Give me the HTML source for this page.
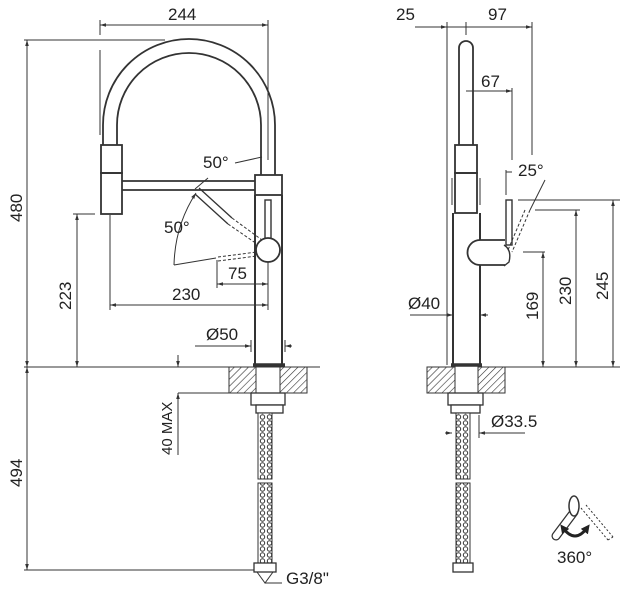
<!DOCTYPE html>
<html><head><meta charset="utf-8"><style>
html,body{margin:0;padding:0;background:#fff;width:627px;height:600px;overflow:hidden}
svg{display:block}
text{font-family:"Liberation Sans",sans-serif;font-size:17px;fill:#222}
</style></head><body>
<svg width="627" height="600" viewBox="0 0 627 600" xmlns="http://www.w3.org/2000/svg">
<defs>
<pattern id="h" width="5" height="5" patternUnits="userSpaceOnUse" patternTransform="rotate(45)">
<rect width="5" height="5" fill="#fff"/><line x1="0" y1="0" x2="0" y2="5" stroke="#333" stroke-width="1.2"/></pattern>
<pattern id="braid" width="7" height="6" patternUnits="userSpaceOnUse">
<rect width="7" height="6" fill="#fff"/><circle cx="3.5" cy="3" r="2.2" fill="none" stroke="#333" stroke-width="1"/></pattern>
<marker id="a" viewBox="0 0 10 10" refX="10" refY="5" markerWidth="6" markerHeight="6" orient="auto-start-reverse"><path d="M0,2 L10,5 L0,8z" fill="#333"/></marker>
<marker id="b" viewBox="0 0 10 10" refX="5" refY="5" markerWidth="3" markerHeight="3" orient="auto-start-reverse"><path d="M0,0 L10,5 L0,10z" fill="#222"/></marker>
</defs>
<g stroke="#333" stroke-width="1" fill="none">
<!-- LEFT VIEW dims -->
<line x1="100" y1="25" x2="268" y2="25" marker-start="url(#a)" marker-end="url(#a)"/>
<line x1="100" y1="20" x2="100" y2="35"/><line x1="100" y1="50" x2="100" y2="135"/>
<line x1="268" y1="20" x2="268" y2="160"/>
<line x1="24" y1="40" x2="165" y2="40"/>
<line x1="27" y1="40" x2="27" y2="367" marker-start="url(#a)" marker-end="url(#a)"/>
<line x1="27" y1="367" x2="27" y2="570" marker-start="url(#a)" marker-end="url(#a)"/>
<line x1="24" y1="367" x2="320" y2="367"/>
<line x1="24" y1="570" x2="258" y2="570"/>
<line x1="73" y1="214" x2="95" y2="214"/>
<line x1="77" y1="214" x2="77" y2="367" marker-start="url(#a)" marker-end="url(#a)"/>
<line x1="110" y1="215" x2="110" y2="310"/>
<line x1="110" y1="305" x2="268" y2="305" marker-start="url(#a)" marker-end="url(#a)"/>
<line x1="217" y1="260" x2="217" y2="288"/>
<line x1="217" y1="284" x2="268" y2="284" marker-start="url(#a)" marker-end="url(#a)"/>
<line x1="268" y1="255" x2="268" y2="310"/>
<line x1="178" y1="355" x2="178" y2="367" marker-end="url(#a)"/>
<line x1="178" y1="455" x2="178" y2="393" marker-end="url(#a)"/>
<line x1="178" y1="393" x2="229" y2="393"/>
<line x1="195" y1="346" x2="251" y2="346" marker-end="url(#a)"/>
<line x1="292" y1="346" x2="285" y2="346" marker-end="url(#a)"/>
<line x1="251" y1="340" x2="251" y2="352"/><line x1="285" y1="340" x2="285" y2="352"/>
<!-- arch hose -->
<path d="M103,145 L103,125 A86,86 0 0 1 275,125 L275,175" stroke-width="1.8"/>
<path d="M117,145 L117,125 A72,72 0 0 1 261,125 L261,175" stroke-width="1.8"/>
<!-- spray head -->
<rect x="101" y="145" width="21" height="28" stroke-width="1.8"/>
<rect x="101" y="173" width="21" height="41" stroke-width="1.8"/>
<!-- arm -->
<line x1="122" y1="181" x2="255" y2="181" stroke-width="1.8"/>
<line x1="122" y1="190" x2="255" y2="190" stroke-width="1.8"/>
<!-- body -->
<rect x="255" y="175" width="27" height="20" stroke-width="1.8"/>
<line x1="255" y1="195" x2="255" y2="365" stroke-width="2"/>
<line x1="282" y1="195" x2="282" y2="365" stroke-width="2"/>
<rect x="265" y="200" width="6" height="40" stroke-width="1.4"/>
<circle cx="268" cy="250" r="12" fill="#fff" stroke-width="1.8"/>
<line x1="253" y1="365" x2="285" y2="365" stroke-width="3.5"/>
<!-- pulled lever -->
<line x1="199" y1="188" x2="232" y2="218" stroke-width="1.3"/>
<line x1="195" y1="194" x2="228" y2="224" stroke-width="1.3"/>
<line x1="232" y1="218" x2="262" y2="240" stroke-dasharray="3,2"/>
<line x1="228" y1="224" x2="257" y2="244" stroke-dasharray="3,2"/>
<path d="M196,193 Q175,225 174,265" marker-start="url(#a)"/>
<line x1="174" y1="265" x2="216" y2="258"/>
<line x1="218" y1="257" x2="257" y2="252" stroke-dasharray="3,2"/>
<line x1="218" y1="261" x2="257" y2="256" stroke-dasharray="3,2"/>
<line x1="195" y1="189" x2="208" y2="178"/>
<line x1="235" y1="163" x2="262" y2="157"/>
<!-- counter -->
<rect x="229" y="367" width="27" height="26" fill="url(#h)"/>
<rect x="280" y="367" width="27" height="26" fill="url(#h)"/>
<line x1="256" y1="367" x2="256" y2="393"/><line x1="280" y1="367" x2="280" y2="393"/>
<rect x="251" y="393" width="34" height="12" fill="#fff" stroke-width="1.3"/>
<rect x="256" y="405" width="27" height="8" fill="#fff" stroke-width="1.3"/>
<rect x="258" y="413" width="14" height="66" fill="url(#braid)"/>
<rect x="258" y="483" width="14" height="80" fill="url(#braid)"/>
<rect x="254" y="563" width="22" height="9" fill="#fff" stroke-width="1.3"/>
<path d="M257,572 L265,583 L273,572"/><line x1="265" y1="583" x2="282" y2="583"/>
<!-- RIGHT VIEW -->
<line x1="415" y1="27" x2="447" y2="27" marker-end="url(#a)"/>
<line x1="447" y1="27" x2="532" y2="27" marker-end="url(#a)"/>
<line x1="447" y1="22" x2="447" y2="365"/>
<line x1="466" y1="22" x2="466" y2="35"/>
<line x1="532" y1="22" x2="532" y2="155"/>
<line x1="466" y1="91" x2="512" y2="91" marker-end="url(#a)"/>
<line x1="512" y1="88" x2="512" y2="160"/>
<line x1="506" y1="170" x2="506" y2="195"/><line x1="506" y1="172" x2="512" y2="172"/>
<path d="M459,145 L459,48 A7,7 0 0 1 473,48 L473,145" stroke-width="1.8"/>
<rect x="455" y="145" width="22" height="28" stroke-width="1.8"/>
<rect x="455" y="173" width="22" height="40" stroke-width="1.8"/>
<line x1="452" y1="178" x2="452" y2="205"/><line x1="480" y1="178" x2="480" y2="205"/>
<line x1="453" y1="213" x2="453" y2="365" stroke-width="2"/>
<line x1="480" y1="213" x2="480" y2="240" stroke-width="2"/>
<line x1="480" y1="265" x2="480" y2="365" stroke-width="2"/>
<path d="M505,240 L480,240 A12,12 0 0 0 480,265 L505,265" stroke-width="1.8"/>
<rect x="506" y="200" width="6" height="45" stroke-width="1.4"/>
<path d="M504,245 Q512,250 509,262 L504,266" stroke-width="1.4"/>
<line x1="545" y1="180" x2="530" y2="210"/>
<line x1="530" y1="210" x2="512" y2="252" stroke-dasharray="3,2"/>
<line x1="525" y1="210" x2="508" y2="250" stroke-dasharray="3,2"/>
<line x1="451" y1="365" x2="482" y2="365" stroke-width="3.5"/>
<line x1="482" y1="367" x2="620" y2="367"/>
<line x1="523" y1="252" x2="545" y2="252"/>
<line x1="543" y1="252" x2="543" y2="367" marker-start="url(#a)" marker-end="url(#a)"/>
<line x1="535" y1="210" x2="580" y2="210"/>
<line x1="576" y1="210" x2="576" y2="367" marker-start="url(#a)" marker-end="url(#a)"/>
<line x1="518" y1="200" x2="620" y2="200"/>
<line x1="613" y1="200" x2="613" y2="367" marker-start="url(#a)" marker-end="url(#a)"/>
<line x1="410" y1="315" x2="453" y2="315" marker-end="url(#a)"/>
<line x1="488" y1="315" x2="480" y2="315" marker-end="url(#a)"/>
<rect x="427" y="367" width="28" height="26" fill="url(#h)"/>
<rect x="478" y="367" width="27" height="26" fill="url(#h)"/>
<line x1="455" y1="367" x2="455" y2="393"/><line x1="478" y1="367" x2="478" y2="393"/>
<rect x="448" y="393" width="35" height="12" fill="#fff" stroke-width="1.3"/>
<rect x="451" y="405" width="29" height="8" fill="#fff" stroke-width="1.3"/>
<rect x="456" y="413" width="14" height="66" fill="url(#braid)"/>
<rect x="456" y="483" width="14" height="80" fill="url(#braid)"/>
<rect x="453" y="563" width="20" height="9" fill="#fff" stroke-width="1.3"/>
<line x1="445" y1="433" x2="452" y2="433" marker-end="url(#a)"/>
<line x1="525" y1="433" x2="479" y2="433" marker-end="url(#a)"/>
<line x1="479" y1="415" x2="479" y2="438"/>
</g>
<!-- 360 icon -->
<g fill="none">
<line x1="556" y1="536" x2="574" y2="512" stroke="#333" stroke-width="9" stroke-linecap="round"/>
<line x1="556" y1="536" x2="574" y2="512" stroke="#fff" stroke-width="6.5" stroke-linecap="round"/>
<ellipse cx="574" cy="506" rx="5" ry="10" fill="#fff" stroke="#333" stroke-width="1.5"/>
<path d="M581,508 L608,540 M586,505 L613,537 M608,540 L613,537" stroke="#333" stroke-dasharray="2,2"/>
<path d="M563,528 Q575,544 587,528" stroke="#222" stroke-width="3" marker-start="url(#b)" marker-end="url(#b)"/>
</g>
<g>
<text x="168" y="20">244</text>
<text transform="translate(22,222) rotate(-90)">480</text>
<text transform="translate(22,487) rotate(-90)">494</text>
<text transform="translate(71,310) rotate(-90)">223</text>
<text transform="translate(172,455) rotate(-90)" style="font-size:15px">40 MAX</text>
<text x="172" y="300">230</text>
<text x="228" y="279">75</text>
<text x="203" y="168">50°</text>
<text x="164" y="233">50°</text>
<text x="206" y="340">Ø50</text>
<text x="286" y="584">G3/8"</text>
<text x="396" y="20">25</text>
<text x="488" y="20">97</text>
<text x="481" y="87">67</text>
<text x="518" y="176">25°</text>
<text x="408" y="309">Ø40</text>
<text transform="translate(538,320) rotate(-90)">169</text>
<text transform="translate(571,305) rotate(-90)">230</text>
<text transform="translate(608,300) rotate(-90)">245</text>
<text x="491" y="427">Ø33.5</text>
<text x="557" y="563">360°</text>
</g>
</svg>
</body></html>
